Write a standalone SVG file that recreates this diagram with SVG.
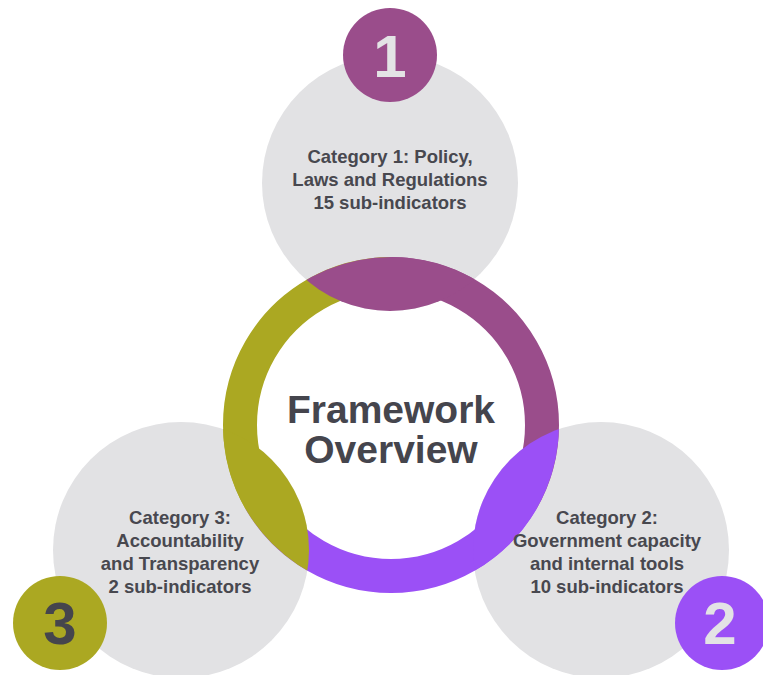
<svg xmlns="http://www.w3.org/2000/svg" width="763" height="675" viewBox="0 0 763 675">
<style>
.grey{fill:#e2e2e4}
.seg{fill:none;stroke-width:34}
.cat{font-family:"Liberation Sans",Arial,sans-serif;font-weight:bold;font-size:18.5px;fill:#48484f;text-anchor:middle}
.num{font-family:"Liberation Sans",Arial,sans-serif;font-weight:bold;font-size:60px;text-anchor:middle}
.title{font-family:"Liberation Sans",Arial,sans-serif;font-weight:bold;font-size:39px;fill:#45454d;text-anchor:middle}
</style>
<defs>
<clipPath id="disk"><circle cx="391" cy="425" r="168"/></clipPath>
</defs>
<rect width="763" height="675" fill="#ffffff"/>
<g id="node-cat1-bg"><circle class="grey" cx="390" cy="183" r="128"/></g>
<g id="node-cat2-bg"><circle class="grey" cx="601" cy="550" r="128"/></g>
<g id="node-cat3-bg"><circle class="grey" cx="181" cy="550" r="128"/></g>
<g id="connectors">
<path class="seg" stroke="#9a4d8b" d="M391 274 A151 151 0 0 1 521.77 500.5"/>
<path class="seg" stroke="#9b50f6" d="M521.77 500.5 A151 151 0 0 1 260.23 500.5"/>
<path class="seg" stroke="#aba822" d="M260.23 500.5 A151 151 0 0 1 391 274"/>
<g clip-path="url(#disk)">
<circle cx="390" cy="183" r="128" fill="#9a4d8b"/>
<circle cx="601" cy="550" r="128" fill="#9b50f6"/>
<circle cx="181" cy="550" r="128" fill="#aba822"/>
</g>
</g>
<g id="node-center">
<text class="title" x="391" y="423">Framework</text>
<text class="title" x="391" y="463">Overview</text>
</g>
<g id="node-cat1">
<text class="cat" x="390" y="163">Category 1: Policy,</text>
<text class="cat" x="390" y="186">Laws and Regulations</text>
<text class="cat" x="390" y="209">15 sub-indicators</text>
</g>
<g id="node-cat2">
<text class="cat" x="607" y="524">Category 2:</text>
<text class="cat" x="607" y="547">Government capacity</text>
<text class="cat" x="607" y="570">and internal tools</text>
<text class="cat" x="607" y="593">10 sub-indicators</text>
</g>
<g id="node-cat3">
<text class="cat" x="180" y="524">Category 3:</text>
<text class="cat" x="180" y="547">Accountability</text>
<text class="cat" x="180" y="570">and Transparency</text>
<text class="cat" x="180" y="593">2 sub-indicators</text>
</g>
<g id="node-num1">
<circle cx="390" cy="55" r="47" fill="#9a4d8b"/>
<text class="num" x="390" y="77" fill="#e3e3e5">1</text>
</g>
<g id="node-num2">
<circle cx="722" cy="623" r="47" fill="#9b50f6"/>
<text class="num" x="720" y="644" fill="#e3e3e5">2</text>
</g>
<g id="node-num3">
<circle cx="60" cy="623" r="47" fill="#aba822"/>
<text class="num" x="60" y="644" fill="#45454d">3</text>
</g>
</svg>
